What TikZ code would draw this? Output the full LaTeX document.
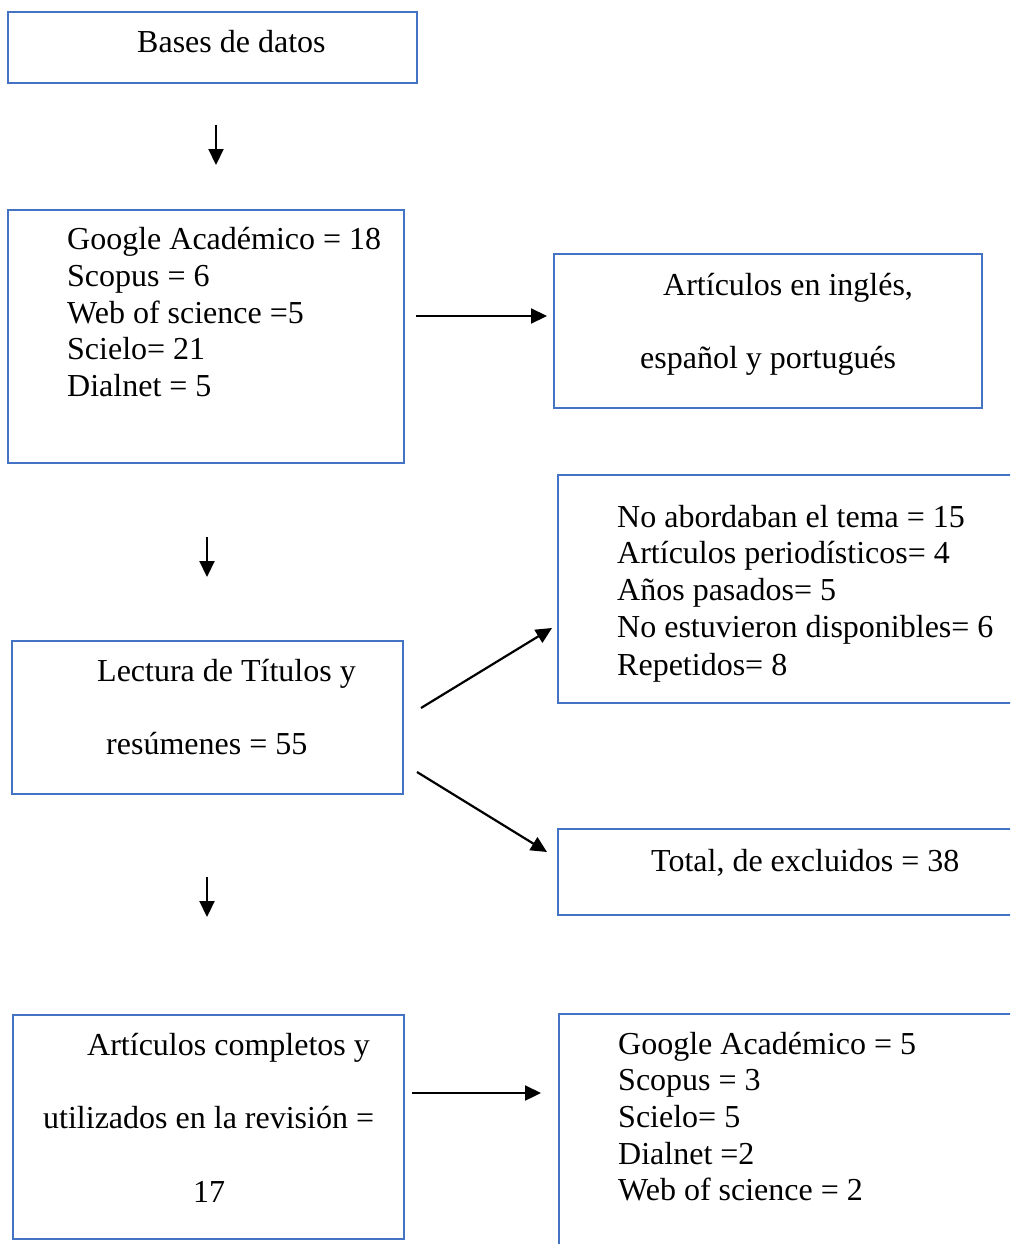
\documentclass[tikz,border=0pt]{standalone}
\usepackage{fontspec}
\setmainfont{Liberation Serif}
\usetikzlibrary{arrows.meta}
\definecolor{boxblue}{HTML}{4472C4}
\begin{document}
\begin{tikzpicture}[x=1pt,y=-1pt,
  box/.style={draw=boxblue,line width=2pt,inner sep=0pt,outer sep=0pt,anchor=north west},
  txt/.style={anchor=base west,inner sep=0pt,font=\fontsize{32}{36.8}\selectfont},
  arr/.style={line width=2.2pt,-{Triangle[length=16pt,width=15pt]}}]
\useasboundingbox (0,0) rectangle (1010,1244);
\clip (0,0) rectangle (1010,1244);
% boxes
\node[box,minimum width=409pt,minimum height=71pt] (b1) at (8,12) {};
\node[box,minimum width=396pt,minimum height=253pt] (b2) at (8,210) {};
\node[box,minimum width=428pt,minimum height=154pt] (b3) at (554,254) {};
\node[box,minimum width=480pt,minimum height=228pt] (b4) at (558,475) {};
\node[box,minimum width=391pt,minimum height=153pt] (b5) at (12,641) {};
\node[box,minimum width=480pt,minimum height=86pt] (b6) at (558,829) {};
\node[box,minimum width=391pt,minimum height=224pt] (b7) at (13,1015) {};
\node[box,minimum width=480pt,minimum height=260pt] (b8) at (559,1014) {};
% texts
\node[txt] (t1) at (137,53) {Bases de datos};
\node[txt] (t2a) at (67,249) {Google Académico = 18};
\node[txt] (t2b) at (67,286) {Scopus = 6};
\node[txt] (t2c) at (67,323) {Web of science =5};
\node[txt] (t2d) at (67,359) {Scielo= 21};
\node[txt] (t2e) at (67,396) {Dialnet = 5};
\node[txt] (t3a) at (663,295) {Artículos en inglés,};
\node[txt] (t3b) at (640,368) {español y portugués};
\node[txt] (t4a) at (617,527) {No abordaban el tema = 15};
\node[txt] (t4b) at (617,563) {Artículos periodísticos= 4};
\node[txt] (t4c) at (617,600) {Años pasados= 5};
\node[txt] (t4d) at (617,637) {No estuvieron disponibles= 6};
\node[txt] (t4e) at (617,675) {Repetidos= 8};
\node[txt] (t5a) at (97,681) {Lectura de Títulos y};
\node[txt] (t5b) at (106,754) {resúmenes = 55};
\node[txt] (t6) at (651,871) {Total, de excluidos = 38};
\node[txt] (t7a) at (87,1055) {Artículos completos y};
\node[txt] (t7b) at (43,1128) {utilizados en la revisión =};
\node[txt] (t7c) at (193,1202) {17};
\node[txt] (t8a) at (618,1054) {Google Académico = 5};
\node[txt] (t8b) at (618,1090) {Scopus = 3};
\node[txt] (t8c) at (618,1127) {Scielo= 5};
\node[txt] (t8d) at (618,1164) {Dialnet =2};
\node[txt] (t8e) at (618,1200) {Web of science = 2};
% arrow end points
\coordinate (a1s) at (216,125); \coordinate (a1e) at (216,165);
\coordinate (a2s) at (416,316); \coordinate (a2e) at (547,316);
\coordinate (a3s) at (207,537); \coordinate (a3e) at (207,577);
\coordinate (a4s) at (421,708); \coordinate (a4e) at (552,628);
\coordinate (a5s) at (417,772); \coordinate (a5e) at (547,852);
\coordinate (a6s) at (207,877); \coordinate (a6e) at (207,917);
\coordinate (a7s) at (412,1093); \coordinate (a7e) at (541,1093);
\draw[arr] (a1s) -- (a1e);
\draw[arr] (a2s) -- (a2e);
\draw[arr] (a3s) -- (a3e);
\draw[arr] (a4s) -- (a4e);
\draw[arr] (a5s) -- (a5e);
\draw[arr] (a6s) -- (a6e);
\draw[arr] (a7s) -- (a7e);
\end{tikzpicture}
\end{document}
